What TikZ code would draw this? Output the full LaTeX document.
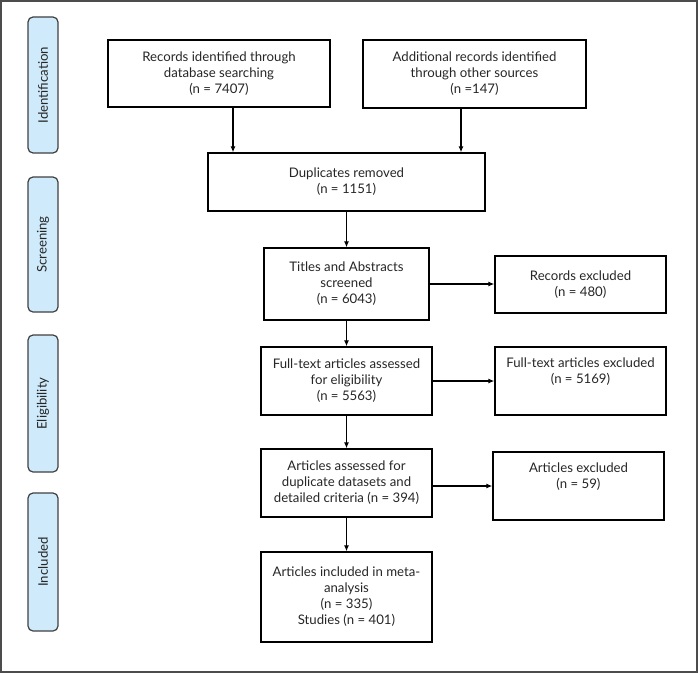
\documentclass[tikz,border=0pt]{standalone}
\usepackage{fontspec}
\setmainfont{Lato}
\usetikzlibrary{arrows.meta}
\definecolor{phasefill}{RGB}{206,234,251}
\definecolor{txt}{RGB}{38,38,38}
\begin{document}
\begin{tikzpicture}[x=1pt,y=-1pt,
    box/.style={draw,line width=1.3pt,align=center,text=txt,inner sep=2pt,
      font=\fontsize{13.2}{16}\selectfont},
    phase/.style={draw=black!75,fill=phasefill,rounded corners=5pt,line width=1.2pt,
      minimum height=30pt,text=txt,rotate=90,font=\fontsize{13.2}{15}\selectfont},
    arr/.style={-{Latex[length=6pt,width=5pt]},line width=1.3pt}]
  \useasboundingbox (0,0) rectangle (700,674);
  \draw[black!70,line width=1.3pt] (1,1) rectangle (697,672);
  % phases
  \draw
    (43,85) node[phase,minimum width=136pt] (ident){Identification}
    (43,244.5) node[phase,minimum width=135pt] (screen){Screening}
    (43,403.5) node[phase,minimum width=137pt] (elig){Eligibility}
    (43,562) node[phase,minimum width=138pt] (incl){Included};
  % boxes
  \draw
    (219,73.5) node[box,minimum width=222pt,minimum height=67pt] (db){Records identified through\\database searching\\(n = 7407)}
    (474.5,74) node[box,minimum width=223pt,minimum height=68pt] (other){Additional records identified\\through other sources\\(n =147)}
    (346.5,182) node[box,minimum width=277pt,minimum height=58pt] (dup){Duplicates removed\\(n = 1151)}
    (346.5,284) node[box,minimum width=165pt,minimum height=72pt] (titles){Titles and Abstracts\\screened\\(n = 6043)}
    (580.5,284.5) node[box,minimum width=171pt,minimum height=57pt] (recex){Records excluded\\(n = 480)}
    (346.5,381) node[box,minimum width=171pt,minimum height=68pt] (fulltext){Full-text articles assessed\\for eligibility\\(n = 5563)}
    (580.5,381) node[box,minimum width=171pt,minimum height=68pt] (fullex){Full-text articles excluded\\(n = 5169)\\\strut}
    (346.5,483) node[box,minimum width=171pt,minimum height=68pt] (dupsets){Articles assessed for\\duplicate datasets and\\detailed criteria (n = 394)}
    (578.5,486) node[box,minimum width=171pt,minimum height=68pt] (artex){Articles excluded\\(n = 59)\\\strut}
    (346.5,597) node[box,minimum width=171pt,minimum height=90pt] (meta){Articles included in meta-\\analysis\\(n = 335)\\Studies (n = 401)};
  \begin{scope}[arr]
    \draw ([xshift=14pt]db.south) to ([xshift=14pt]db.south |- dup.north);
    \draw ([xshift=-13.5pt]other.south) to ([xshift=-13.5pt]other.south |- dup.north);
    \draw (dup) to (titles);
    \draw (titles) to (fulltext);
    \draw (fulltext) to (dupsets);
    \draw (dupsets) to (meta);
    \draw (titles.east) to (titles.east -| recex.west);
    \draw (fulltext.east) to (fullex.west);
    \draw (dupsets.east |- artex.west) to (artex.west);
  \end{scope}
\end{tikzpicture}
\end{document}
